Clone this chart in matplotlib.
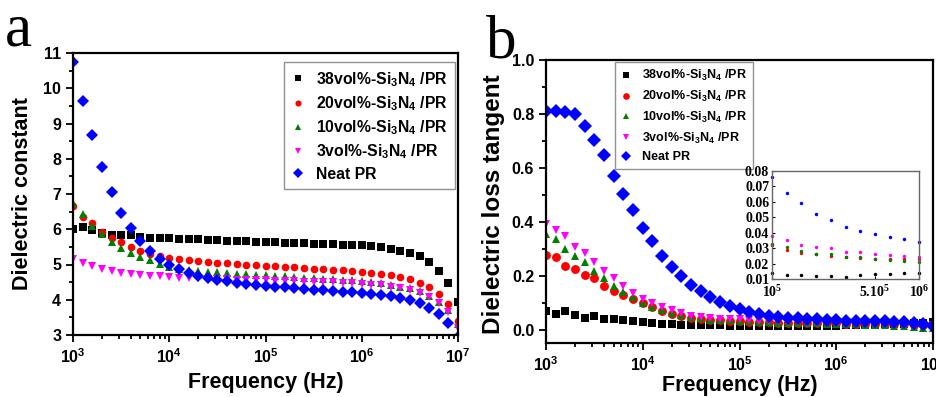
import numpy as np
import matplotlib
matplotlib.use('Agg')
import matplotlib.pyplot as plt
from matplotlib.ticker import MultipleLocator, NullLocator, FixedLocator, FixedFormatter, FormatStrFormatter

plt.rcParams['font.family'] = ['Liberation Sans', 'DejaVu Sans']
plt.rcParams['font.weight'] = 'bold'
plt.rcParams['mathtext.fontset'] = 'custom'
plt.rcParams['mathtext.bf'] = 'Liberation Sans:bold'
plt.rcParams['mathtext.rm'] = 'Liberation Serif:bold'
plt.rcParams['mathtext.default'] = 'bf'

# measurement frequencies, 10 points per decade from 1e3 to 1e7 Hz
freq = np.logspace(3, 7, 41)

labels = [r'38vol%-Si$_{3}$N$_{4}$ /PR', r'20vol%-Si$_{3}$N$_{4}$ /PR',
          r'10vol%-Si$_{3}$N$_{4}$ /PR', r'3vol%-Si$_{3}$N$_{4}$ /PR', 'Neat PR']
colors = ['#000000', '#ff0000', '#008000', '#ff00ff', '#0000ff']
markers = ['s', 'o', '^', 'v', 'D']

# (a) dielectric constant
eps_38 = [6.02, 6.07, 5.97, 5.90, 5.84, 5.85, 5.85, 5.79, 5.74, 5.76, 5.74, 5.73, 5.72, 5.71,
          5.70, 5.69, 5.68, 5.67, 5.66, 5.65, 5.64, 5.63, 5.62, 5.61, 5.60, 5.59, 5.58, 5.57,
          5.56, 5.55, 5.54, 5.52, 5.49, 5.45, 5.38, 5.33, 5.24, 5.07, 4.82, 4.48, 3.94]
eps_20 = [6.65, 6.36, 6.19, 5.92, 5.74, 5.63, 5.50, 5.39, 5.30, 5.24, 5.19, 5.15, 5.13, 5.09,
          5.07, 5.05, 5.03, 5.02, 5.00, 4.98, 4.97, 4.95, 4.93, 4.92, 4.90, 4.88, 4.86, 4.85,
          4.83, 4.81, 4.79, 4.76, 4.73, 4.69, 4.65, 4.59, 4.48, 4.36, 4.16, 3.88, 3.40]
eps_10 = [6.74, 6.44, 6.09, 5.87, 5.64, 5.47, 5.34, 5.20, 5.13, 5.02, 4.92, 4.87, 4.85, 4.82,
          4.80, 4.78, 4.76, 4.74, 4.72, 4.70, 4.69, 4.68, 4.66, 4.65, 4.63, 4.62, 4.60, 4.58,
          4.57, 4.55, 4.53, 4.50, 4.47, 4.42, 4.37, 4.32, 4.24, 4.12, 3.95, 3.70, 3.30]
eps_3 = [5.15, 5.03, 4.96, 4.86, 4.82, 4.77, 4.74, 4.70, 4.68, 4.66, 4.65, 4.63, 4.62, 4.61,
         4.60, 4.59, 4.58, 4.57, 4.56, 4.56, 4.55, 4.54, 4.53, 4.52, 4.51, 4.50, 4.50, 4.49,
         4.48, 4.47, 4.45, 4.43, 4.41, 4.37, 4.33, 4.28, 4.19, 4.08, 3.91, 3.65, 3.20]
eps_pr = [10.74, 9.64, 8.66, 7.77, 7.05, 6.46, 6.04, 5.68, 5.39, 5.15, 5.00, 4.86, 4.76, 4.68,
          4.61, 4.56, 4.52, 4.48, 4.45, 4.42, 4.39, 4.37, 4.35, 4.33, 4.31, 4.29, 4.27, 4.25,
          4.23, 4.21, 4.19, 4.16, 4.13, 4.10, 4.05, 4.00, 3.91, 3.77, 3.60, 3.34, 2.95]

# (b) dielectric loss tangent
tan_38 = [0.070, 0.058, 0.070, 0.054, 0.043, 0.051, 0.039, 0.039, 0.035, 0.030, 0.028, 0.025,
          0.022, 0.020, 0.018, 0.017, 0.016, 0.015, 0.015, 0.014,
          0.014, 0.0125, 0.0125, 0.012, 0.012, 0.0115, 0.0125, 0.0135, 0.013, 0.014, 0.014,
          0.015, 0.016, 0.017, 0.018, 0.019, 0.020, 0.022, 0.024, 0.026, 0.029]
tan_20 = [0.276, 0.269, 0.237, 0.225, 0.202, 0.190, 0.163, 0.144, 0.128, 0.113, 0.097, 0.082,
          0.070, 0.059, 0.050, 0.044, 0.039, 0.036, 0.034, 0.033,
          0.032, 0.029, 0.027, 0.0265, 0.025, 0.0245, 0.0235, 0.023, 0.023, 0.023, 0.023,
          0.022, 0.022, 0.021, 0.021, 0.020, 0.020, 0.019, 0.018, 0.017, 0.016]
tan_10 = [0.354, 0.335, 0.300, 0.273, 0.249, 0.218, 0.190, 0.160, 0.140, 0.120, 0.100, 0.085,
          0.072, 0.062, 0.053, 0.046, 0.041, 0.037, 0.035, 0.034,
          0.033, 0.031, 0.028, 0.0265, 0.026, 0.0245, 0.024, 0.023, 0.0225, 0.0215, 0.021,
          0.020, 0.019, 0.018, 0.017, 0.016, 0.014, 0.012, 0.010, 0.007, 0.004]
tan_3 = [0.393, 0.370, 0.346, 0.307, 0.284, 0.249, 0.218, 0.190, 0.160, 0.136, 0.115, 0.098,
         0.084, 0.071, 0.060, 0.052, 0.046, 0.042, 0.040, 0.039,
         0.038, 0.035, 0.032, 0.031, 0.030, 0.0275, 0.0275, 0.026, 0.0255, 0.025, 0.0245,
         0.024, 0.024, 0.023, 0.023, 0.022, 0.022, 0.021, 0.020, 0.018, 0.015]
tan_pr = [0.810, 0.810, 0.808, 0.800, 0.756, 0.705, 0.647, 0.571, 0.503, 0.444, 0.377, 0.327,
          0.273, 0.231, 0.197, 0.165, 0.143, 0.119, 0.101, 0.086,
          0.076, 0.066, 0.059, 0.052, 0.048, 0.044, 0.041, 0.039, 0.0375, 0.036, 0.034,
          0.033, 0.032, 0.031, 0.030, 0.030, 0.029, 0.028, 0.026, 0.022, 0.012]

eps_all = [eps_38, eps_20, eps_10, eps_3, eps_pr]
tan_all = [tan_38, tan_20, tan_10, tan_3, tan_pr]

fig = plt.figure(figsize=(9.36, 3.97), dpi=100)
W, H = 936., 397.
ax1 = fig.add_axes([73 / W, 1 - 335 / H, 385 / W, 282 / H])
ax2 = fig.add_axes([546 / W, 1 - 343 / H, 387 / W, 283 / H])
axin = fig.add_axes([772 / W, 1 - 279 / H, 147 / W, 108 / H])

for ax in (ax1, ax2):
    ax.set_xscale('log')
    ax.set_xlim(1e3, 1e7)
    for s in ax.spines.values():
        s.set_linewidth(1.6)
    ax.tick_params(which='both', direction='out', top=False, right=False, labelsize=11.5, width=1.3)
    ax.tick_params(which='major', length=5)
    ax.tick_params(which='minor', length=3)

for i in range(5):
    ms = 6.5 if markers[i] == 'D' else 5.5
    ax1.plot(freq, eps_all[i], ls='none', marker=markers[i], color=colors[i], ms=ms, mew=0,
             label=labels[i])
    ms2 = 7.0 if markers[i] == 'D' else 6.4
    ax2.plot(freq, tan_all[i], ls='none', marker=markers[i], color=colors[i], ms=ms2, mew=0,
             label=labels[i])
    axin.plot(freq[20:31], tan_all[i][20:31], ls='none', marker='o', color=colors[i], ms=2.5,
              mew=0, clip_on=False)

ax1.set_ylim(3, 11)
ax1.yaxis.set_major_locator(MultipleLocator(1))
ax1.yaxis.set_minor_locator(MultipleLocator(0.5))
ax1.set_ylabel('Dielectric constant', fontsize=15.5, fontweight='bold')
ax1.set_xlabel('Frequency (Hz)', fontsize=15.5, fontweight='bold')
ax1.yaxis.set_label_coords(-0.104, 0.5)
ax1.xaxis.set_label_coords(0.5, -0.13)
leg1 = ax1.legend(loc='upper right', bbox_to_anchor=(0.992, 0.968), borderaxespad=0,
                  fontsize=11.3, numpoints=1, handlelength=0.8, handletextpad=0.7,
                  labelspacing=0.35, borderpad=0.5, fancybox=False, edgecolor='#777777',
                  markerscale=0.8)
leg1.get_frame().set_linewidth(1.0)

ax2.set_ylim(-0.05, 1.0)
ax2.yaxis.set_major_locator(MultipleLocator(0.2))
ax2.yaxis.set_minor_locator(MultipleLocator(0.1))
ax2.yaxis.set_major_formatter(FormatStrFormatter('%.1f'))
ax2.set_ylabel('Dielectric loss tangent', fontsize=17.5, fontweight='bold')
ax2.set_xlabel('Frequency (Hz)', fontsize=15.5, fontweight='bold')
ax2.yaxis.set_label_coords(-0.105, 0.49)
ax2.xaxis.set_label_coords(0.5, -0.113)
leg2 = ax2.legend(loc='upper left', bbox_to_anchor=(0.178, 0.993), borderaxespad=0,
                  fontsize=9, numpoints=1, handlelength=0.8, handletextpad=0.9,
                  labelspacing=0.45, borderpad=0.5, fancybox=False, edgecolor='#777777',
                  markerscale=0.75)
leg2.get_frame().set_linewidth(1.0)

# inset: zoom of 1e5 - 1e6
axin.set_xscale('log')
axin.set_xlim(1e5, 1e6)
axin.set_ylim(0.01, 0.08)
for s in axin.spines.values():
    s.set_linewidth(1.0)
    s.set_color('#666666')
axin.xaxis.set_major_locator(FixedLocator([1e5, 5e5, 1e6]))
axin.xaxis.set_major_formatter(FixedFormatter([r'$\mathrm{10^{5}}$', r'$\mathrm{5.10^{5}}$',
                                               r'$\mathrm{10^{6}}$']))
axin.xaxis.set_minor_locator(NullLocator())
axin.yaxis.set_major_locator(MultipleLocator(0.01))
axin.yaxis.set_major_formatter(FormatStrFormatter('%.2f'))
axin.tick_params(which='both', direction='in', length=2, width=0.8, labelsize=10, pad=2)
axin.tick_params(axis='x', pad=4)
for t in axin.get_yticklabels():
    t.set_fontfamily(['Liberation Serif', 'DejaVu Serif'])
    t.set_fontweight('bold')

fig.text(5 / W, 1 - 45 / H, 'a', fontsize=44, family='Liberation Serif', fontweight='normal')
fig.text(486 / W, 1 - 58 / H, 'b', fontsize=44, family='Liberation Serif', fontweight='normal')

fig.savefig('out.png', dpi=100)
